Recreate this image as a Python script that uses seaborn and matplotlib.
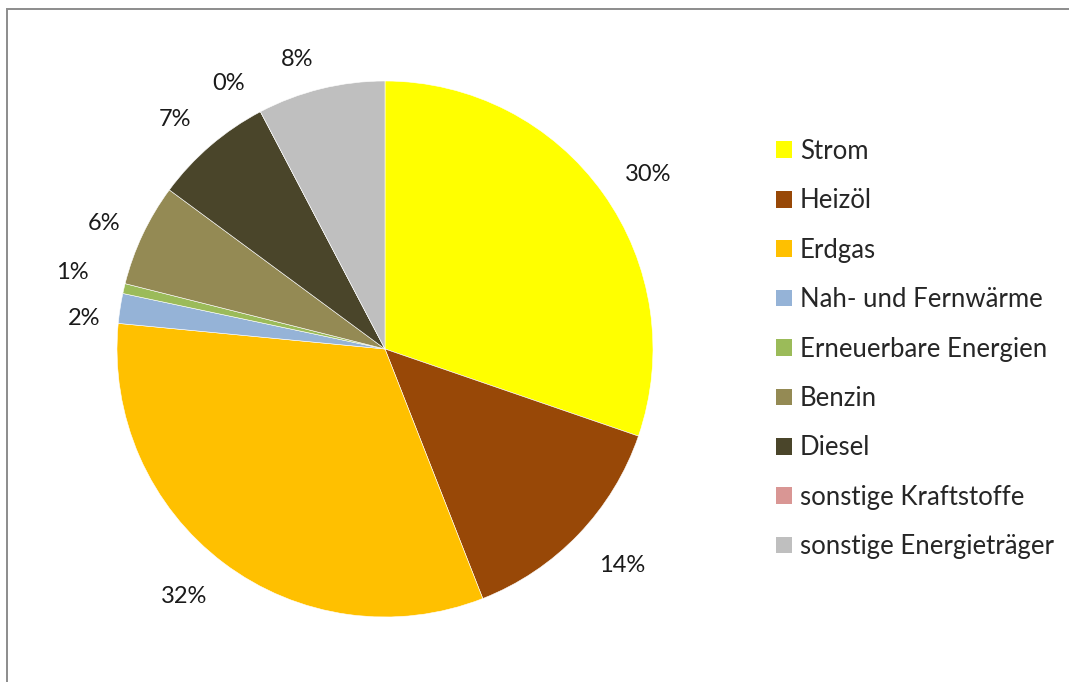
import numpy as np
import matplotlib
matplotlib.use("Agg")
import matplotlib.pyplot as plt
from matplotlib.patches import Patch, Rectangle
import seaborn as sns

# Energy consumption by carrier (share in percent)
categories = ["Strom", "Heizöl", "Erdgas", "Nah- und Fernwärme",
              "Erneuerbare Energien", "Benzin", "Diesel",
              "sonstige Kraftstoffe", "sonstige Energieträger"]
shares = [30.3, 13.8, 32.5, 1.8, 0.6, 6.2, 7.2, 0.0, 7.7]
colors = ["#FFFF00", "#984807", "#FFC000", "#95B3D7", "#9BBB59",
          "#948A54", "#4A452A", "#D99694", "#BFBFBF"]

# label placement around the pie: angular nudge (deg) and radial distance
label_nudge = [-2.0, 1.4, -2.0, 2.9, -0.7, 1.2, 1.8, 2.9, 3.1]
label_dist = [1.18, 1.20, 1.19, 1.13, 1.20, 1.15, 1.16, 1.15, 1.13]

sns.set_theme(style="white")
plt.rcParams["font.family"] = ["Lato", "DejaVu Sans"]

fig = plt.figure(figsize=(10.69, 6.82), dpi=100)
fig.patch.set_facecolor("white")

# chart frame (open towards right and bottom)
fig.add_artist(Rectangle((7 / 1069, -0.1), 1.2, 1 - 9 / 682 + 0.1,
                         transform=fig.transFigure, fill=False,
                         edgecolor="#8C8C8C", linewidth=1.4))

ax = fig.add_axes([117 / 1069, 65 / 682, 536 / 1069, 536 / 682])
wedges, texts, autotexts = ax.pie(
    shares, colors=colors, startangle=90, counterclock=False,
    radius=1.0, autopct="%.0f%%", pctdistance=1.17,
    wedgeprops=dict(edgecolor="white", linewidth=0.4),
    textprops=dict(fontsize=17, color="#1a1a1a"))

for w, t, da, r in zip(wedges, autotexts, label_nudge, label_dist):
    mid = np.deg2rad((w.theta1 + w.theta2) / 2 + da)
    t.set_position((r * np.cos(mid), r * np.sin(mid)))

ax.set_xlim(-1, 1)
ax.set_ylim(-1, 1)
ax.set_aspect("equal")
ax.axis("off")

handles = [Patch(facecolor=c, edgecolor="none") for c in colors]
fig.legend(handles, categories, loc="center left",
           bbox_to_anchor=(776 / 1069, 1 - 349 / 682), frameon=False,
           fontsize=18.5, handlelength=0.62, handleheight=0.62,
           handletextpad=0.31, labelspacing=0.95, borderpad=0,
           borderaxespad=0)

fig.savefig("out.png", dpi=100, facecolor="white")
